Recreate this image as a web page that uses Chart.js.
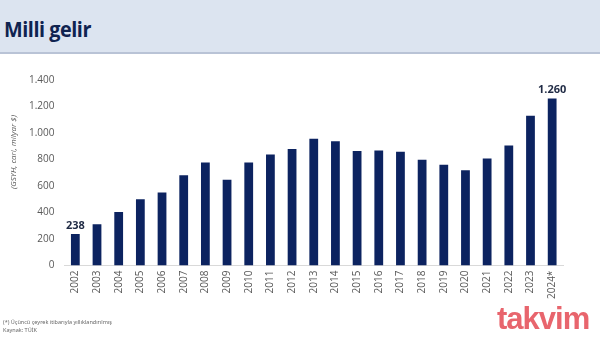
<!DOCTYPE html>
<html>
<head>
<meta charset="utf-8">
<script src="https://cdn.jsdelivr.net/npm/chart.js@4"></script>
<style>
    html, body { margin: 0; padding: 0; background: #fff; }
    #wrap { position: relative; width: 600px; height: 338px; overflow: hidden; }
    #header {
        position: absolute; left: 0; top: 0; width: 600px; height: 52px;
        background: #dce4f0; border-bottom: 2px solid #b9c3d6;
    }
    #header h1 {
        margin: 0; position: absolute; left: 4px; top: 13px;
        font-family: "Open Sans", sans-serif; font-weight: 700; font-size: 22px;
        color: #0f2350; letter-spacing: -0.5px;
        transform: scaleX(0.9); transform-origin: left top;
    }
    #note {
        position: absolute; left: 3px; top: 318px;
        font-family: "Noto Sans", sans-serif; font-size: 5.5px; line-height: 8px; color: #666;
    }
    #logo {
        position: absolute; left: 497px; top: 301px;
        font-family: "Liberation Sans", sans-serif; font-weight: 700; font-size: 31px;
        color: #e8656d; letter-spacing: -1px;
    }
    canvas { position: absolute; left: 0; top: 0; }
</style>
</head>
<body>
<div id="wrap">
    <div id="header"><h1>Milli gelir</h1></div>
    <canvas id="myChart" width="600" height="338"></canvas>
    <div id="note">(*) Üçüncü çeyrek itibarıyla yıllıklandırılmış<br>Kaynak: TÜİK</div>
    <div id="logo">takvim</div>
</div>
<script>
"use strict";

var years = ['2002', '2003', '2004', '2005', '2006', '2007', '2008', '2009', '2010', '2011', '2012',
    '2013', '2014', '2015', '2016', '2017', '2018', '2019', '2020', '2021', '2022', '2023', '2024*'];
var income = [238, 312, 405, 501, 552, 681, 777, 648, 777, 838, 880,
    957, 938, 864, 869, 859, 798, 760, 720, 807, 906, 1130, 1260];
var labelled = [0, 22]; // bars with a value on top
var yTitle = '(GSYH, cari, milyar $)';

function dotted(v) {
    return String(v).replace(/\B(?=(\d{3})+(?!\d))/g, '.');
}

var topLabels = {
    id: 'topLabels',
    afterDatasetsDraw: function(chart) {
        var ctx = chart.ctx;
        var meta = chart.getDatasetMeta(0);
        ctx.save();
        ctx.font = 'bold 11px "Open Sans", sans-serif';
        ctx.fillStyle = '#1f2a44';
        ctx.textAlign = 'center';
        ctx.textBaseline = 'bottom';
        labelled.forEach(function(i) {
            var bar = meta.data[i];
            ctx.fillText(dotted(income[i]), bar.x, bar.y - 3);
        });
        // y axis title, sits a bit above the middle
        ctx.translate(14, 152);
        ctx.rotate(-Math.PI / 2);
        ctx.font = 'italic 8px "Open Sans", sans-serif';
        ctx.fillStyle = '#555';
        ctx.textBaseline = 'middle';
        ctx.fillText(yTitle, 0, 0);
        ctx.restore();
    }
};

var ctx1 = document.getElementById('myChart').getContext('2d');
var myChart = new Chart(ctx1, {
    type: 'bar',
    data: {
        labels: years,
        datasets: [{
            data: income,
            backgroundColor: '#0c2360',
            barPercentage: 0.45,
            categoryPercentage: 0.9
        }]
    },
    options: {
        responsive: false,
        animation: false,
        layout: {
            padding: { top: 80, left: 19, right: 37, bottom: 34 }
        },
        plugins: {
            legend: { display: false },
            tooltip: { enabled: false }
        },
        scales: {
            x: {
                grid: { display: false, drawTicks: false },
                border: { color: '#d9d9d9' },
                ticks: {
                    color: '#595959',
                    font: { family: 'Open Sans', size: 10 },
                    minRotation: 90,
                    maxRotation: 90,
                    padding: 5
                }
            },
            y: {
                min: 0,
                max: 1400,
                grid: { display: false, drawTicks: false },
                border: { display: false },
                ticks: {
                    stepSize: 200,
                    color: '#595959',
                    font: { family: 'Open Sans', size: 10 },
                    padding: 10,
                    callback: function(v) { return dotted(v); }
                }
            }
        }
    },
    plugins: [topLabels]
});
</script>
</body>
</html>
